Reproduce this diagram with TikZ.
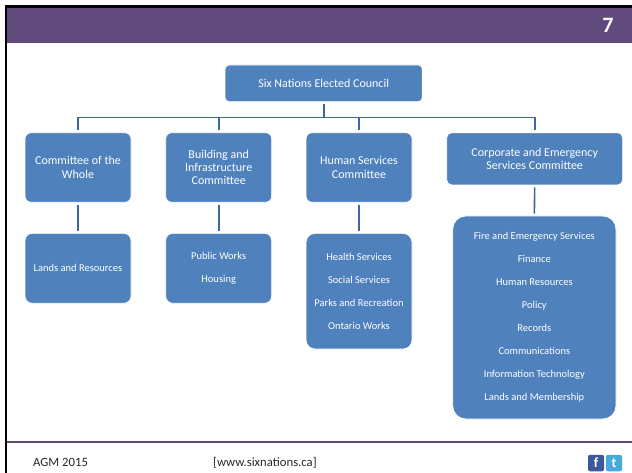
\documentclass[tikz,border=0pt]{standalone}
\usepackage{fontspec}
\setmainfont{Carlito}
\definecolor{boxblue}{RGB}{79,129,189}
\definecolor{connblue}{RGB}{60,103,158}
\definecolor{hdrpurple}{RGB}{96,74,123}
\definecolor{foottext}{RGB}{40,40,40}
\definecolor{fbblue}{RGB}{59,89,152}
\definecolor{twblue}{RGB}{70,170,220}
\tikzset{
  orgbox/.style={fill=boxblue, draw=white, line width=0.8pt, text=white, align=center, inner sep=0pt},
  headtext/.style={font=\fontsize{12}{13.3}\selectfont},
  listtext/.style={font=\fontsize{10.5}{23}\selectfont},
  conn/.style={draw=connblue, line width=1.6pt, shorten <=2pt, shorten >=2pt},
  icon/.style={rounded corners=2pt, minimum width=16pt, minimum height=16.5pt, inner sep=0pt, text=white, font=\bfseries\fontsize{14}{14}\selectfont},
  foot/.style={anchor=base west, inner sep=0pt, text=foottext, font=\fontsize{12.7}{14}\selectfont},
}
\begin{document}
\begin{tikzpicture}[x=1pt,y=-1pt]
\useasboundingbox (0,0) rectangle (632,473);
\fill[white] (0,0) rectangle (632,473);
% frame and header
\fill[black] (5,5.5) rectangle (632,8);
\fill[black] (5,5.5) rectangle (7.3,473);
\fill[hdrpurple] (7.3,8) rectangle (632,42.7);
\fill[hdrpurple] (7.3,440.7) rectangle (632,443.3);
\node[text=white, inner sep=0pt, font=\bfseries\fontsize{22}{22}\selectfont] (pagenum) at (608,25.8) {7};
% org chart
\node[orgbox, headtext, rounded corners=4pt, minimum width=197.3pt, minimum height=36.7pt] (top) at (323.7,83.35) {Six Nations Elected Council};
\node[orgbox, headtext, rounded corners=6pt, minimum width=106pt, minimum height=69.6pt] (c1) at (78,167.5) {Committee of the\\Whole};
\node[orgbox, headtext, rounded corners=6pt, minimum width=106pt, minimum height=69.6pt] (c2) at (218.7,167.5) {Building and\\Infrastructure\\Committee};
\node[orgbox, headtext, rounded corners=6pt, minimum width=106pt, minimum height=69.6pt] (c3) at (359,167.5) {Human Services\\Committee};
\node[orgbox, headtext, rounded corners=5pt, minimum width=176pt, minimum height=52.3pt] (c4) at (534.7,158.8) {Corporate and Emergency\\Services Committee};
\node[orgbox, listtext, rounded corners=7pt, minimum width=106pt, minimum height=70pt] (l1) at (78,268.3) {Lands and Resources};
\node[orgbox, listtext, rounded corners=7pt, minimum width=106pt, minimum height=70pt] (l2) at (218.7,268.3) {Public Works\\Housing};
\node[orgbox, listtext, rounded corners=9pt, minimum width=106pt, minimum height=115.7pt] (l3) at (359,291.2) {Health Services\\Social Services\\Parks and Recreation\\Ontario Works};
\node[orgbox, listtext, rounded corners=13pt, minimum width=163.3pt, minimum height=203pt] (l4) at (534.35,317.5) {Fire and Emergency Services\\Finance\\Human Resources\\Policy\\Records\\Communications\\Information Technology\\Lands and Membership};
% connectors
\coordinate (bus) at (0,117.5);
\draw[conn] (top.south) -- (top.south |- bus) -| (c1.north);
\draw[conn] (top.south) -- (top.south |- bus) -| (c2.north);
\draw[conn] (top.south) -- (top.south |- bus) -| (c3.north);
\draw[conn] (top.south) -- (top.south |- bus) -| (c4.north);
\draw[conn] (c1.south) -- (l1.north);
\draw[conn] (c2.south) -- (l2.north);
\draw[conn] (c3.south) -- (l3.north);
\draw[conn] (c4.south) -- (l4.north);
% footer
\node[foot] (agm) at (33,466.5) {AGM 2015};
\node[foot] (web) at (213,466.5) {[www.sixnations.ca]};
\node[icon, fill=fbblue] (fb) at (596,463) {f};
\node[icon, fill=twblue] (tw) at (614,463) {t};
\end{tikzpicture}
\end{document}
